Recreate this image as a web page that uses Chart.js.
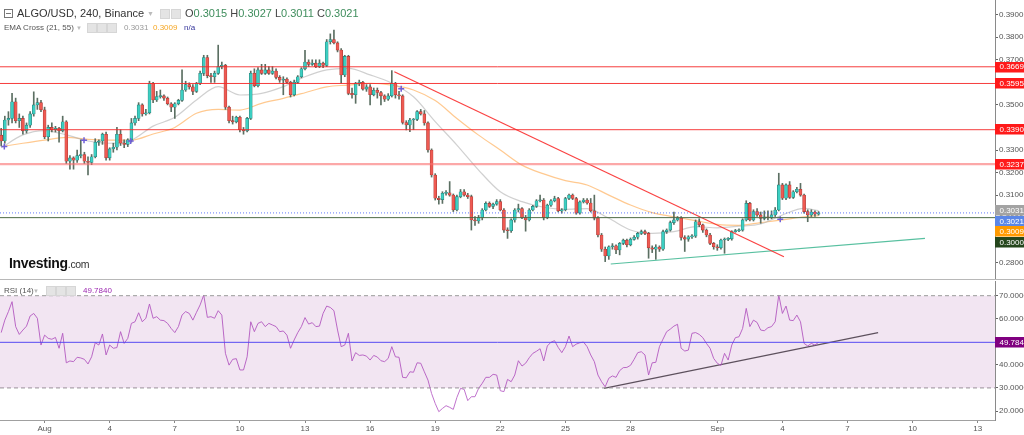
<!DOCTYPE html>
<html><head><meta charset="utf-8">
<script src="https://cdn.jsdelivr.net/npm/chart.js@4.4.0/dist/chart.umd.min.js"></script>
<style>
html,body{margin:0;padding:0;background:#fff;width:1024px;height:435px;overflow:hidden;font-family:"Liberation Sans",Arial,sans-serif;}
#wrap{position:relative;width:1024px;height:435px;}
canvas{position:absolute;left:0;}
#c1{top:0;}
#c2{top:280px;}
.t{position:absolute;white-space:nowrap;line-height:1;}
.ic{position:absolute;width:8px;height:8px;background:#e4e4e4;border:1px solid #d6d6d6;}
.sep{position:absolute;left:0;width:1024px;height:1px;background:#b8b8b8;}
</style></head>
<body><div id="wrap">
<canvas id="c1" width="1024" height="280"></canvas>
<canvas id="c2" width="1024" height="155"></canvas>
<div class="sep" style="top:279px"></div>

<div class="ic" style="left:4px;top:9px;width:7px;height:7px;background:#fff;border:1px solid #777"></div>
<div style="position:absolute;left:6px;top:13px;width:5px;height:1px;background:#777"></div>
<div class="t" style="left:17px;top:8px;font-size:11px;color:#333">ALGO/USD, 240, Binance</div>
<div class="t" style="left:147px;top:10px;font-size:7px;color:#bbb">▼</div>
<div class="ic" style="left:160px;top:9px"></div>
<div class="ic" style="left:171px;top:9px"></div>
<div class="t" style="left:185px;top:8px;font-size:11px;color:#444">O<span style="color:#3e8d5c">0.3015</span> H<span style="color:#3e8d5c">0.3027</span> L<span style="color:#3e8d5c">0.3011</span> C<span style="color:#3e8d5c">0.3021</span></div>

<div class="t" style="left:4px;top:24px;font-size:8px;color:#555">EMA Cross (21, 55)</div>
<div class="t" style="left:76px;top:25px;font-size:6px;color:#bbb">▼</div>
<div class="ic" style="left:87px;top:23px"></div>
<div class="ic" style="left:97px;top:23px"></div>
<div class="ic" style="left:107px;top:23px"></div>
<div class="t" style="left:124px;top:24px;font-size:8px;color:#999">0.3031</div>
<div class="t" style="left:153px;top:24px;font-size:8px;color:#f5a623">0.3009</div>
<div class="t" style="left:184px;top:24px;font-size:8px;color:#33339a">n/a</div>

<div class="t" style="left:9px;top:256px;font-size:14px;font-weight:bold;color:#111;letter-spacing:-0.3px">Investing<span style="font-size:10.5px;font-weight:normal;color:#333">.com</span></div>

<div class="t" style="left:4px;top:287px;font-size:8px;color:#555">RSI (14)</div>
<div class="t" style="left:33px;top:288px;font-size:6px;color:#bbb">▼</div>
<div class="ic" style="left:46px;top:286px"></div>
<div class="ic" style="left:56px;top:286px"></div>
<div class="ic" style="left:66px;top:286px"></div>
<div class="t" style="left:83px;top:287px;font-size:8px;color:#9c27b0">49.7840</div>
</div>
<script>
// ---------- DATA ----------
const firstOpen = 0.3366;
const closes = [
.3340,.3433,.3440,.3514,.3430,.3440,.3385,.3410,.3460,.3500,.3510,.3478,.3359,.3400,.3390,.3396,.3385,.3425,.3250,.3265,
.3255,.3275,.3280,.3250,.3245,.3270,.3335,.3340,.3370,.3265,.3305,.3312,.3370,.3330,.3325,.3345,.3420,.3440,.3500,.3460,
.3465,.3596,.3522,.3537,.3540,.3530,.3505,.3490,.3505,.3520,.3566,.3590,.3580,.3560,.3596,.3640,.3710,.3630,.3625,.3640,
.3670,.3676,.3490,.3430,.3425,.3445,.3390,.3385,.3440,.3640,.3585,.3655,.3640,.3655,.3640,.3650,.3622,.3610,.3615,.3600,
.3545,.3600,.3625,.3660,.3690,.3680,.3685,.3670,.3685,.3675,.3780,.3790,.3775,.3743,.3633,.3715,.3551,.3545,.3596,.3600,
.3570,.3580,.3545,.3565,.3555,.3540,.3525,.3540,.3596,.3545,.3540,.3422,.3411,.3433,.3436,.3470,.3460,.3420,.3300,.3189,
.3086,.3080,.3108,.3110,.3100,.3034,.3093,.3115,.3100,.3093,.2990,.2985,.3000,.3034,.3063,.3050,.3060,.3071,.3034,.2945,
.2942,.2990,.3034,.3040,.3000,.2990,.3034,.3050,.3075,.3078,.3000,.3055,.3075,.3085,.3030,.3035,.3085,.3100,.3085,.3020,
.3070,.3078,.3065,.3030,.2998,.2923,.2860,.2830,.2871,.2875,.2857,.2886,.2900,.2880,.2904,.2913,.2930,.2938,.2930,.2866,
.2860,.2870,.2860,.2938,.2945,.2978,.2990,.2997,.2912,.2905,.2915,.2918,.2982,.2968,.2945,.2923,.2886,.2871,.2866,.2901,
.2904,.2906,.2938,.2942,.2945,.2990,.3063,.2990,.3027,.3012,.2997,.3004,.2999,.3012,.3034,.3145,.3086,.3145,.3090,.3115,
.3126,.3100,.3027,.3012,.3025,.3015,.3021];
const highs = [
.3396,.3450,.3470,.3551,.3530,.3460,.3450,.3420,.3470,.3558,.3530,.3520,.3490,.3410,.3420,.3405,.3400,.3450,.3430,.3275,
.3270,.3300,.3345,.3290,.3270,.3280,.3350,.3345,.3375,.3380,.3310,.3330,.3400,.3390,.3345,.3350,.3440,.3450,.3510,.3505,
.3480,.3605,.3600,.3560,.3566,.3545,.3535,.3510,.3510,.3525,.3655,.3605,.3598,.3590,.3600,.3650,.3720,.3720,.3640,.3650,
.3765,.3690,.3680,.3495,.3450,.3450,.3450,.3400,.3445,.3650,.3660,.3665,.3680,.3680,.3670,.3670,.3660,.3630,.3625,.3620,
.3605,.3610,.3630,.3665,.3742,.3700,.3700,.3700,.3700,.3690,.3790,.3815,.3832,.3780,.3750,.3720,.3720,.3575,.3600,.3610,
.3605,.3590,.3590,.3575,.3575,.3560,.3545,.3550,.3652,.3600,.3560,.3545,.3430,.3440,.3440,.3475,.3480,.3475,.3425,.3305,
.3195,.3095,.3115,.3120,.3160,.3105,.3100,.3125,.3125,.3108,.3100,.3005,.3010,.3040,.3070,.3070,.3065,.3080,.3080,.3040,
.2955,.2995,.3040,.3060,.3045,.3010,.3040,.3055,.3080,.3100,.3085,.3060,.3080,.3095,.3090,.3040,.3090,.3105,.3105,.3090,
.3075,.3085,.3085,.3085,.3100,.3005,.2930,.2870,.2875,.2885,.2880,.2890,.2905,.2905,.2910,.2920,.2935,.2945,.2945,.2935,
.2875,.2880,.2875,.2945,.2950,.2985,.3025,.3005,.3005,.2920,.2920,.2925,.2990,.2995,.2972,.2950,.2930,.2890,.2880,.2905,
.2910,.2912,.2942,.2948,.2950,.2995,.3075,.3068,.3035,.3040,.3025,.3030,.3030,.3030,.3045,.3197,.3152,.3150,.3160,.3120,
.3135,.3152,.3105,.3035,.3035,.3030,.3027];
const lows = [
.3318,.3330,.3410,.3420,.3420,.3400,.3370,.3375,.3400,.3450,.3480,.3470,.3350,.3340,.3380,.3380,.3335,.3380,.3240,.3215,
.3215,.3245,.3265,.3240,.3190,.3235,.3265,.3320,.3325,.3255,.3255,.3290,.3300,.3320,.3310,.3315,.3335,.3410,.3430,.3450,
.3455,.3460,.3510,.3515,.3530,.3520,.3500,.3470,.3440,.3500,.3515,.3560,.3570,.3545,.3555,.3590,.3630,.3620,.3600,.3600,
.3635,.3660,.3480,.3420,.3415,.3420,.3380,.3370,.3380,.3435,.3580,.3580,.3635,.3635,.3635,.3635,.3615,.3600,.3545,.3595,
.3535,.3540,.3595,.3620,.3655,.3670,.3675,.3665,.3665,.3665,.3670,.3770,.3770,.3735,.3596,.3625,.3545,.3530,.3507,.3585,
.3565,.3560,.3500,.3540,.3530,.3500,.3515,.3520,.3535,.3530,.3525,.3415,.3389,.3381,.3390,.3430,.3455,.3410,.3290,.3180,
.3078,.3060,.3063,.3100,.3095,.3027,.3030,.3088,.3095,.3085,.2945,.2965,.2975,.2990,.3030,.3045,.3040,.3055,.3030,.2935,
.2908,.2935,.2980,.3025,.2995,.2940,.2985,.3030,.3045,.3070,.2990,.2995,.3050,.3070,.3025,.3020,.3030,.3080,.3080,.3015,
.3015,.3065,.3060,.3025,.2990,.2915,.2850,.2805,.2815,.2860,.2840,.2835,.2880,.2870,.2875,.2900,.2905,.2925,.2925,.2820,
.2845,.2815,.2850,.2855,.2930,.2940,.2970,.2985,.2900,.2850,.2895,.2908,.2912,.2960,.2935,.2915,.2880,.2860,.2855,.2860,
.2842,.2898,.2900,.2935,.2938,.2940,.2985,.2985,.2985,.3005,.2975,.2990,.2990,.2995,.3005,.3030,.3080,.3080,.3085,.3085,
.3110,.3095,.3020,.2982,.3005,.3005,.3011];
const rsi = [
54,59.4,63.1,67.4,56.6,53.2,55.1,56.8,61.2,62.3,60.2,48.6,52.9,51.5,51.1,51.9,47.2,53.7,40.9,41.7,
41.4,43.3,43,42.4,40.4,43.5,49.6,48.6,53.4,44.3,48.6,47.2,47.5,54.4,49.3,51.5,58,58.7,62.6,58.7,
60.2,66.4,60.2,60.9,59.4,59.2,58,55.8,54,56.6,61.6,63.1,62.3,59.4,62.8,66,70.3,60.6,60.9,60.2,
63.5,61.6,45,39.9,42.4,42.7,37.8,37.8,43.5,58.7,54.4,58,58.7,56.6,58,57.3,56.6,54.4,54.7,52.9,
47.2,50.8,54,56.6,60.5,57.7,58.3,56.6,56.8,62.3,65.5,64.9,63.5,55.1,47.9,48.6,53.7,41.7,45.3,44.1,
44.3,43.8,42.1,44.1,43.4,41.8,41.4,42.8,47.9,43.5,43.3,34.6,34.4,37,36.8,40.9,40.7,37,33.4,27.6,
23.3,19.7,21.1,22.3,21.6,20.7,25.9,29.8,29.4,24.5,26.2,26.2,29.8,32,34.6,34.6,35.9,35.6,28.8,28.4,
33.7,32.7,35.6,41.8,39.5,40.7,43.1,45,45.9,47,41.7,48.2,49.8,50.5,47.6,45.3,47.9,52.5,47.9,49,
49.6,49.9,47.9,44.3,41.4,35.6,32.7,30.5,34.2,35.2,34.6,37.5,38.8,38.9,39.8,42.4,45.3,45.7,44.3,35.6,
40.9,41.1,47.9,51.2,54.4,55.5,56.8,57.6,47.2,46,46.4,53.7,54,53.2,51.8,49.3,47.2,42.8,40.7,39.8,
45,42.1,48.6,51.8,52.2,55.8,64.5,56.6,59.4,58.4,55.1,54.8,56.1,56.6,58.7,70.3,62.3,65.5,59.4,59.2,
61.6,58.7,49.3,48.2,49.3,48.6,49.784];
const emaIdx = [0,6,12,18,24,30,36,42,48,54,60,66,72,78,84,90,96,102,108,114,120,126,132,138,144,150,156,162,168,174,180,186,192,198,204,210,216,222,226];
const ema21 = [.3310,.3367,.3386,.3367,.3340,.3330,.3344,.3406,.3445,.3522,.3581,.3544,.3551,.3581,.3625,.3655,.3662,.3633,.3596,.3536,.3426,.3322,.3211,.3115,.3071,.3046,.3037,.3040,.2997,.2945,.2930,.2938,.2960,.2955,.2962,.2972,.3012,.3041,.3031];
const ema55 = [.3315,.3330,.3344,.3356,.3347,.3344,.3344,.3371,.3400,.3463,.3480,.3477,.3507,.3529,.3554,.3580,.3588,.3596,.3588,.3566,.3519,.3440,.3366,.3300,.3233,.3194,.3164,.3145,.3100,.3056,.3022,.3004,.2987,.2970,.2966,.2978,.2990,.3004,.3009];
const crossIdx = [0.86,22.9,35.8,110.6,215.4];
const crossPrices = [.3316,.3343,.3340,.3572,.2993];
const resistanceLevels = [0.3669,0.3595,0.3390];
const softLevel = 0.3237;
const lastPrice = 0.3021;
const supportLevel = 0.3000;
const lastEma21 = 0.3031, lastEma55 = 0.3009;
const downTrendDays = [16.115,34.07], downTrendPrices = [0.36472,0.28268];
const upTrendDays = [26.09,40.57], upTrendPrices = [0.27945,0.29084];
const rsiTrendDays = [25.78,38.41], rsiTrendValues = [29.84,53.96];
const rsiLevel = 49.784, rsiUpper = 70, rsiLower = 30;
const priceTicks = [0.28,0.29,0.30,0.31,0.32,0.33,0.34,0.35,0.36,0.37,0.38,0.39];
const rsiTicks = [20,30,40,50,60,70];
const dayTicks = [0,3,6,9,12,15,18,21,24,27,31,34,37,40,43];
const dayLabels = ["Aug","4","7","10","13","16","19","22","25","28","Sep","4","7","10","13"];
// candle time axis: 4h candles starting Jul 30 00:00 (days relative to Aug 1)
const startDay = -2, candleDays = 4/24;

// ---------- BUILD ----------
const FONT = "'Liberation Sans', Arial, sans-serif";
const opens = [firstOpen].concat(closes.slice(0, -1));
const dayOf = i => startDay + i * candleDays;
const XMIN = -2.0553, XMAX = 43.797;
const UP = '#3ccfc2', DOWN = '#ef5a52';

function hline(v, color, width, dash) {
  return {type:'line', data:[{x:XMIN,y:v},{x:XMAX,y:v}], borderColor:color, borderWidth:width,
    borderDash:dash||[], pointRadius:0, fill:false, order:0};
}
function seg(xs, ys, color, width) {
  return {type:'line', data:xs.map((x,k)=>({x:x,y:ys[k]})), borderColor:color, borderWidth:width,
    pointRadius:0, fill:false, order:0};
}
function noPad(s){ s.paddingTop=0; s.paddingBottom=0; s.paddingLeft=0; s.paddingRight=0; }

function boxPlugin(axisId, items, xLeft) {
  return {id:'boxes'+axisId, afterDraw(chart){
    const ctx = chart.ctx, sc = chart.scales[axisId];
    const arr = items.map(it=>({...it, y: sc.getPixelForValue(it.v)})).sort((a,b)=>a.y-b.y);
    let prev = -100;
    ctx.save();
    ctx.font = '8px ' + FONT; ctx.textBaseline='middle';
    arr.forEach(it=>{
      let y = Math.max(it.y, prev + 10.5);
      prev = y;
      ctx.fillStyle = it.c;
      ctx.fillRect(xLeft, Math.round(y-5.25), 1024-xLeft, 10.5);
      ctx.fillStyle = '#fff';
      ctx.fillText(it.label, xLeft+4.5, y+0.5);
    });
    ctx.restore();
  }};
}

const common = {responsive:false, animation:false, events:[], devicePixelRatio:1,
  plugins:{legend:{display:false}, tooltip:{enabled:false}}};

// Price chart
const priceBoxes = [
  {v:0.3669,label:'0.3669',c:'#ff1a1a'},
  {v:0.3595,label:'0.3595',c:'#ff1a1a'},
  {v:0.3390,label:'0.3390',c:'#ff1a1a'},
  {v:0.3237,label:'0.3237',c:'#ff1a1a'},
  {v:lastEma21,label:lastEma21.toFixed(4),c:'#a3a3a3'},
  {v:lastPrice,label:lastPrice.toFixed(4),c:'#5b87e8'},
  {v:lastEma55,label:lastEma55.toFixed(4),c:'#ff9a00'},
  {v:supportLevel,label:supportLevel.toFixed(4),c:'#24461c'}
];

new Chart(document.getElementById('c1'), {
  type:'bar',
  data:{datasets:[
    ...resistanceLevels.map(v=>hline(v,'rgba(245,40,40,0.9)',1)),
    hline(softLevel,'rgba(250,110,110,0.6)',2.2),
    hline(lastPrice,'rgba(70,100,250,0.85)',1,[1,2]),
    hline(supportLevel,'#4d6a45',1),
    seg(downTrendDays, downTrendPrices, 'rgba(250,45,45,0.9)', 1.2),
    seg(upTrendDays, upTrendPrices, 'rgba(70,185,150,0.9)', 1.2),
    {type:'line', data:emaIdx.map((i,k)=>({x:dayOf(i),y:ema21[k]})), borderColor:'rgba(170,170,170,0.55)', borderWidth:1.2, pointRadius:0, cubicInterpolationMode:'monotone', order:3},
    {type:'line', data:emaIdx.map((i,k)=>({x:dayOf(i),y:ema55[k]})), borderColor:'rgba(255,165,70,0.6)', borderWidth:1.2, pointRadius:0, cubicInterpolationMode:'monotone', order:3},
    {type:'bar', data:closes.map((c,i)=>({x:dayOf(i), y:[lows[i],highs[i]]})), backgroundColor:'#5b6f62', barThickness:1, grouped:false, order:2},
    {type:'bar', data:closes.map((c,i)=>({x:dayOf(i), y:[opens[i],c]})),
      backgroundColor:closes.map((c,i)=>c>=opens[i]?UP:DOWN),
      borderColor:closes.map((c,i)=>c>=opens[i]?'#2b7f78':'#a83a36'), borderWidth:0.6, borderSkipped:false,
      barThickness:3, minBarLength:1, grouped:false, order:1},
    {type:'scatter', data:crossIdx.map((i,k)=>({x:dayOf(i),y:crossPrices[k]})), pointStyle:'cross', pointRadius:3, borderColor:'#6f5fd8', backgroundColor:'#6f5fd8', borderWidth:1.5, order:0}
  ]},
  options:{...common,
    layout:{autoPadding:false, padding:{top:0,bottom:1,left:0,right:0}},
    scales:{
      x:{type:'linear', min:XMIN, max:XMAX, display:false, offset:false, grid:{display:false}},
      y:{type:'linear', position:'right', min:0.272794, max:0.396519,
        afterFit(s){ s.width=29; noPad(s); },
        afterBuildTicks(s){ s.ticks = priceTicks.map(v=>({value:v})); },
        ticks:{callback:v=>Number(v).toFixed(4), font:{size:8,family:FONT}, color:'#555', padding:1},
        grid:{drawOnChartArea:false, drawTicks:true, tickLength:3, color:'#666'},
        border:{display:true, color:'#8a8a8a'}}
    }
  },
  plugins:[boxPlugin('y', priceBoxes, 995)]
});

// RSI chart
new Chart(document.getElementById('c2'), {
  type:'line',
  data:{datasets:[
    {data:[{x:XMIN,y:rsiUpper},{x:XMAX,y:rsiUpper}], borderColor:'#9a9a9a', borderWidth:1, borderDash:[4,3], pointRadius:0, fill:'+1', backgroundColor:'rgba(128,0,128,0.1)'},
    {data:[{x:XMIN,y:rsiLower},{x:XMAX,y:rsiLower}], borderColor:'#9a9a9a', borderWidth:1, borderDash:[4,3], pointRadius:0, fill:false},
    {data:[{x:XMIN,y:rsiLevel},{x:XMAX,y:rsiLevel}], borderColor:'#5151ff', borderWidth:1, pointRadius:0, fill:false},
    {data:rsi.map((v,i)=>({x:dayOf(i),y:v})), borderColor:'rgba(185,100,200,0.9)', borderWidth:1, pointRadius:0, fill:false, tension:0},
    {data:rsiTrendDays.map((x,k)=>({x:x,y:rsiTrendValues[k]})), borderColor:'#5a5a5a', borderWidth:1.2, pointRadius:0, fill:false}
  ]},
  options:{...common,
    layout:{autoPadding:false, padding:{top:1,bottom:0,left:0,right:0}},
    scales:{
      x:{type:'linear', min:XMIN, max:XMAX, offset:false,
        afterFit(s){ s.height=15; noPad(s); },
        afterBuildTicks(s){ s.ticks = dayTicks.map(v=>({value:v})); },
        ticks:{autoSkip:false, maxRotation:0, callback:(v,idx)=>dayLabels[idx], font:{size:8,family:FONT}, color:'#555', padding:1},
        grid:{drawOnChartArea:false, drawTicks:true, tickLength:3, color:'#888'},
        border:{display:true, color:'#a0a0a0'}},
      y:{type:'linear', position:'right', min:16.1, max:76.37,
        afterFit(s){ s.width=29; noPad(s); },
        afterBuildTicks(s){ s.ticks = rsiTicks.map(v=>({value:v})); },
        ticks:{callback:v=>Number(v).toFixed(4), font:{size:8,family:FONT}, color:'#555', padding:1},
        grid:{drawOnChartArea:false, drawTicks:true, tickLength:3, color:'#666'},
        border:{display:true, color:'#8a8a8a'}}
    }
  },
  plugins:[boxPlugin('y', [{v:rsiLevel,label:'49.7840',c:'#800080'}], 995)]
});
</script>
</body></html>
